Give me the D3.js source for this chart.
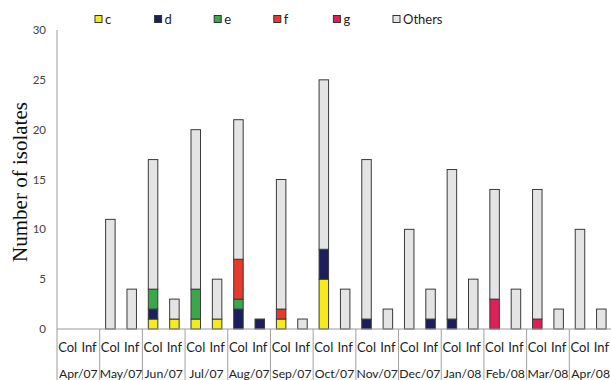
<!DOCTYPE html>
<html><head><meta charset="utf-8">
<script src="https://cdn.jsdelivr.net/npm/d3@7"></script>
<style>body{margin:0;background:#fff}svg{display:block}</style>
</head><body><svg id="c" width="611" height="380"></svg>
<script>
const months = ["Apr/07","May/07","Jun/07","Jul/07","Aug/07","Sep/07","Oct/07","Nov/07","Dec/07","Jan/08","Feb/08","Mar/08","Apr/08"];
const types = ["Col","Inf"];
const seriesKeys = ["c","d","e","f","g","Others"];
const seriesColors = ["#f4ea1c","#1c1f5c","#3aa84a","#e63a2a","#df1f58","#e4e4e4"];
// values per series, order: month x (Col, Inf)
const cVals      = [0,0, 0,0, 1,1, 1,1, 0,0, 1,0, 5,0, 0,0, 0,0, 0,0, 0,0, 0,0, 0,0];
const dVals      = [0,0, 0,0, 1,0, 0,0, 2,1, 0,0, 3,0, 1,0, 0,1, 1,0, 0,0, 0,0, 0,0];
const eVals      = [0,0, 0,0, 2,0, 3,0, 1,0, 0,0, 0,0, 0,0, 0,0, 0,0, 0,0, 0,0, 0,0];
const fVals      = [0,0, 0,0, 0,0, 0,0, 4,0, 1,0, 0,0, 0,0, 0,0, 0,0, 0,0, 0,0, 0,0];
const gVals      = [0,0, 0,0, 0,0, 0,0, 0,0, 0,0, 0,0, 0,0, 0,0, 0,0, 3,0, 1,0, 0,0];
const othersVals = [0,0, 11,4, 13,2, 16,4, 14,0, 13,1, 17,4, 16,2, 10,3, 15,5, 11,4, 13,2, 10,2];
const yTicks = [0,5,10,15,20,25,30];

(function(){
const svg = d3.select("#c");
const mLeft = 57, mRight = 612, mTop = 30, base = 329, mBottom = 380;

const rows = [];
months.forEach((m,i)=>types.forEach((t,j)=>{
  const k = i*2+j;
  rows.push({month:m,type:t,c:cVals[k],d:dVals[k],e:eVals[k],f:fVals[k],g:gVals[k],Others:othersVals[k]});
}));

const x0 = d3.scaleBand().domain(months).range([mLeft,mRight]).padding(0);
const x1 = d3.scaleBand().domain(types).range([0,x0.bandwidth()]).padding(0);
const y = d3.scaleLinear().domain([0,30]).range([base,mTop]);
const color = d3.scaleOrdinal().domain(seriesKeys).range(seriesColors);
const barW = 9.5;

const stack = d3.stack().keys(seriesKeys)(rows);

const g = svg.append("g");
stack.forEach(layer=>{
  g.selectAll(null).data(layer.filter(d=>d[1]-d[0]>0)).enter().append("rect")
    .attr("x", d=>x0(d.data.month)+x1(d.data.type)+x1.bandwidth()/2-barW/2)
    .attr("y", d=>y(d[1]))
    .attr("width", barW)
    .attr("height", d=>y(d[0])-y(d[1]))
    .attr("fill", color(layer.key))
    .attr("stroke","#3a3a3a").attr("stroke-width",1);
});

svg.append("line").attr("x1",mLeft).attr("x2",mLeft).attr("y1",mTop).attr("y2",mBottom)
  .attr("stroke","#9a9a9a").attr("stroke-width",1);
svg.append("line").attr("x1",mLeft).attr("x2",mRight).attr("y1",base).attr("y2",base)
  .attr("stroke","#9a9a9a").attr("stroke-width",1);
svg.selectAll(null).data(months.slice(1)).enter().append("line")
  .attr("x1",d=>x0(d)).attr("x2",d=>x0(d)).attr("y1",base).attr("y2",mBottom)
  .attr("stroke","#a0a0a0").attr("stroke-width",1);

svg.selectAll(null).data(yTicks).enter().append("text")
  .attr("x",46).attr("y",d=>y(d)).attr("dy","0.35em").attr("text-anchor","end")
  .attr("font-family","Lato, 'Open Sans', sans-serif").attr("font-size",11.5).attr("fill","#444")
  .text(d=>d);

svg.append("text").attr("transform","translate(27,182) rotate(-90)")
  .attr("text-anchor","middle").attr("font-family","'Liberation Serif', 'DejaVu Serif', serif")
  .attr("font-size",21).attr("fill","#111").text("Number of isolates");

svg.selectAll(null).data(rows).enter().append("text")
  .attr("x",d=>x0(d.month)+x1(d.type)+x1.bandwidth()/2)
  .attr("y",347.5).attr("dy","0.35em").attr("text-anchor","middle")
  .attr("font-family","Lato, 'Open Sans', sans-serif").attr("font-size",13).attr("fill","#222")
  .text(d=>d.type);
svg.selectAll(null).data(months).enter().append("text")
  .attr("x",d=>x0(d)+x0.bandwidth()/2).attr("y",373.5).attr("dy","0.35em").attr("text-anchor","middle")
  .attr("font-family","Lato, 'Open Sans', sans-serif").attr("font-size",12.2).attr("fill","#222")
  .text(d=>d);

const legendX = d3.scalePoint().domain(seriesKeys).range([95,393]);
const lg = svg.selectAll(null).data(seriesKeys).enter().append("g")
  .attr("transform",d=>`translate(${legendX(d)},15.5)`);
lg.append("rect").attr("width",7).attr("height",7).attr("fill",d=>color(d))
  .attr("stroke","#333").attr("stroke-width",1);
lg.append("text").attr("x",10).attr("y",3.5).attr("dy","0.35em")
  .attr("font-family","Lato, 'Open Sans', sans-serif").attr("font-size",13).attr("fill","#222")
  .text(d=>d);
})();
</script></body></html>
